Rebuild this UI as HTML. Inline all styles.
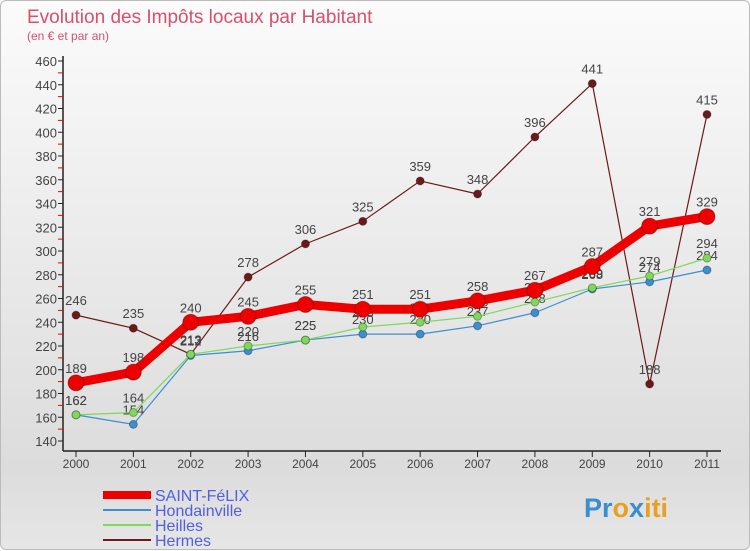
<!DOCTYPE html>
<html><head><meta charset="utf-8"><style>
body{margin:0;width:750px;height:550px;overflow:hidden;font-family:"Liberation Sans",sans-serif}
#wrap{position:absolute;left:0;top:0;width:748px;height:548px;border:1px solid #bbb;border-radius:6px;background:linear-gradient(#fbfbfb,#dcdcdc 85%,#e6e6e6)}
</style></head><body>
<div id="wrap">
<svg id="svg" width="750" height="550" xmlns="http://www.w3.org/2000/svg" style="position:absolute;left:0;top:0">
<text x="26" y="22" font-size="19" fill="#d6506e">Evolution des Impôts locaux par Habitant</text>
<text x="26" y="39" font-size="12" fill="#d6506e">(en € et par an)</text>
<g id="axes"></g><g id="series"></g><g id="legend"></g>
<text x="583" y="516" font-size="27" font-weight="bold" fill="#e89020"><tspan fill="#3a8ed0">Pr</tspan><tspan fill="#e8a020">o</tspan><tspan fill="#3a8ed0">x</tspan><tspan fill="#e8a020">iti</tspan></text>
</svg></div>
<script>
const years=[2000,2001,2002,2003,2004,2005,2006,2007,2008,2009,2010,2011];
const saintFelix=[189,198,240,245,255,251,251,258,267,287,321,329];
const hondainville=[162,154,212,216,225,230,230,237,248,268,274,284];
const heilles=[162,164,213,220,225,236,240,245,257,269,279,294];
const hermes=[246,235,213,278,306,325,359,348,396,441,188,415];
const yTicks=[140,160,180,200,220,240,260,280,300,320,340,360,380,400,420,440,460];
const NS="http://www.w3.org/2000/svg";
const X=i=>75+i*(706-75)/11;
const Y=v=>440-(v-140)*380/320;
function mk(t,a,p){const e=document.createElementNS(NS,t);for(const k in a)e.setAttribute(k,a[k]);p.appendChild(e);return e;}
const ax=document.getElementById('axes');
const yl=mk('line',{x1:62,y1:55,x2:62,y2:450,stroke:'#222','stroke-width':1.5},ax);

const xl=mk('line',{x1:62,y1:450,x2:720,y2:450,stroke:'#222','stroke-width':1.5},ax);

yTicks.forEach(v=>{
 mk('line',{x1:57,y1:Y(v),x2:62,y2:Y(v),stroke:'#222'},ax);
 if(v<460) mk('line',{x1:57,y1:Y(v+10),x2:62,y2:Y(v+10),stroke:'#e00'},ax);
 const t=mk('text',{x:56,y:Y(v)+5,'font-size':13,'text-anchor':'end',fill:'#444'},ax);t.textContent=v;
 
});
years.forEach((y,i)=>{
 mk('line',{x1:X(i),y1:450,x2:X(i),y2:456,stroke:'#222'},ax);
 const t=mk('text',{x:X(i),y:467,'font-size':12,'text-anchor':'middle',fill:'#444'},ax);t.textContent=y;
 
});
const sg=document.getElementById('series');
function series(data,color,w,r,name){
 const g=mk('g',{},sg);
 
 mk('polyline',{points:data.map((v,i)=>X(i)+','+Y(v)).join(' '),fill:'none',stroke:color,'stroke-width':w,'stroke-linejoin':'round'},g);
 data.forEach((v,i)=>{
  const c=mk('circle',{cx:X(i),cy:Y(v),r:r,fill:color,stroke:'rgba(0,0,0,0.3)','stroke-width':1},g);
  
  const t=mk('text',{x:X(i),y:Y(v)-10,'font-size':13,'text-anchor':'middle',fill:'#444'},g);t.textContent=v;
  
 });
}
series(hermes,'#6b1a1a',1.2,4,'hermes');
series(hondainville,'#3b8fd0',1.2,4,'hondainville');
series(heilles,'#7fd85a',1.2,4,'heilles');
series(saintFelix,'#ee0000',9,8,'saint-felix');
const lg=document.getElementById('legend');
[['SAINT-FéLIX','#ee0000',8],['Hondainville','#3b8fd0',2],['Heilles','#7fd85a',2],['Hermes','#6b1a1a',2]].forEach((d,i)=>{
 const y=494+i*15;
 const g=mk('g',{},lg);
 
 mk('line',{x1:102,y1:y,x2:150,y2:y,stroke:d[1],'stroke-width':d[2]},g);
 const t=mk('text',{x:154,y:y+6,'font-size':16,fill:'#5060e0'},g);t.textContent=d[0];
});
</script>
</body></html>
